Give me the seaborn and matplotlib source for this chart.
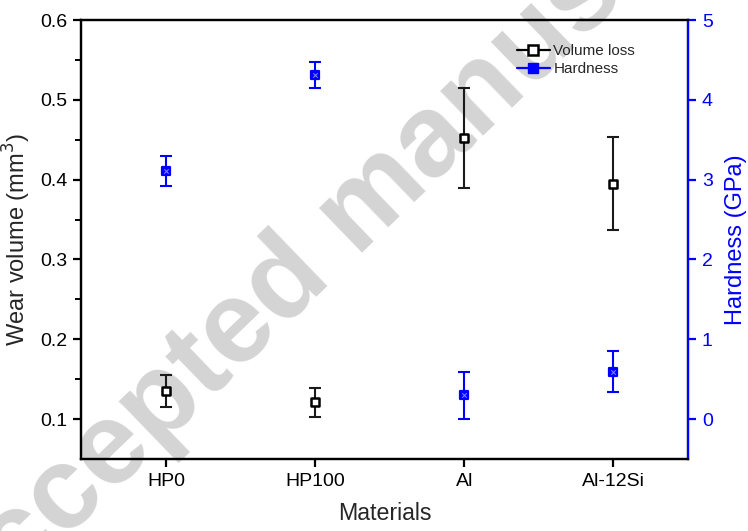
import numpy as np
import pandas as pd
import seaborn as sns
import matplotlib
matplotlib.use("Agg")
import matplotlib.pyplot as plt
from matplotlib.lines import Line2D

materials = ["HP0", "HP100", "Al", "Al-12Si"]
volume_loss = [0.135, 0.121, 0.452, 0.395]
volume_err = [0.020, 0.018, 0.063, 0.058]
hardness = [3.11, 4.31, 0.30, 0.595]
hardness_err = [0.185, 0.16, 0.295, 0.255]

sns.set_theme(style="ticks")
plt.rcParams["font.family"] = ["Liberation Sans", "DejaVu Sans"]

fig = plt.figure(figsize=(7.48, 5.31), dpi=100)
fig.patch.set_facecolor("white")

# watermark behind everything
fig.text(-0.058, -0.215, "Accepted manuscript", fontsize=84, fontweight="bold",
         color="#d4d4d4", rotation=44, rotation_mode="anchor",
         ha="left", va="baseline", zorder=-5)

ax = fig.add_axes([0.1083, 0.1356, 0.8115, 0.8267])
ax.set_facecolor("none")
ax2 = ax.twinx()
ax2.set_facecolor("none")

x = np.arange(len(materials))
df = pd.DataFrame({"x": x, "material": materials, "vol": volume_loss,
                   "vol_err": volume_err, "hard": hardness, "hard_err": hardness_err})

# Volume loss
ax.errorbar(df["x"], df["vol"], yerr=df["vol_err"], fmt="none", ecolor="#1a1a1a",
            elinewidth=1.5, capsize=4.5, capthick=1.5, zorder=2)
sns.scatterplot(data=df, x="x", y="vol", ax=ax, marker="s", s=36, color="white",
                edgecolor="black", linewidth=1.8, zorder=3, legend=False)

# Hardness
ax2.errorbar(df["x"], df["hard"], yerr=df["hard_err"], fmt="none", ecolor="#0000ff",
             elinewidth=1.5, capsize=4.5, capthick=1.5, zorder=2)
sns.scatterplot(data=df, x="x", y="hard", ax=ax2, marker="s", s=36, color="#0000ff",
                edgecolor="#0000ff", linewidth=1.6, zorder=3, legend=False)
sns.scatterplot(data=df, x="x", y="hard", ax=ax2, marker="x", s=10, color="#8c8cff",
                linewidth=0.7, zorder=4, legend=False)

ax.set_xlim(-0.57, 3.5)
ax.set_ylim(0.05, 0.6)
ax2.set_ylim(-0.5, 5)

ax.set_xticks(x)
ax.set_xticklabels(materials)
ax.set_yticks([0.1, 0.2, 0.3, 0.4, 0.5, 0.6])
ax.set_yticklabels(["0.1", "0.2", "0.3", "0.4", "0.5", "0.6"])
ax.set_yticks(np.arange(0.15, 0.6, 0.1), minor=True)
ax2.set_yticks([0, 1, 2, 3, 4, 5])

for a in (ax, ax2):
    for s in a.spines.values():
        s.set_linewidth(1.6)
        s.set_color("black")
ax2.spines["right"].set_color("#0000ff")

ax.tick_params(axis="both", which="major", direction="out", length=6, width=1.6,
               labelsize=14, colors="black", pad=4)
ax.tick_params(axis="y", which="minor", direction="out", length=4, width=1.4, colors="black")
ax.tick_params(axis="x", which="minor", length=0)
ax2.tick_params(axis="y", which="major", direction="out", length=6, width=1.6,
                labelsize=14, colors="#0000ff", pad=4)

ax.set_xlabel("Materials", fontsize=16.7, labelpad=9)
ax.set_ylabel("Wear volume (mm$^3$)", fontsize=17, labelpad=5)
ax2.set_ylabel("Hardness (GPa)", fontsize=17, color="#0000ff", labelpad=9)

handles = [
    Line2D([], [], color="black", lw=1.6, marker="s", markersize=6.5,
           markerfacecolor="white", markeredgecolor="black", markeredgewidth=1.8),
    Line2D([], [], color="#0000ff", lw=1.6, marker="s", markersize=6.5,
           markerfacecolor="#0000ff", markeredgecolor="#0000ff"),
]
ax.legend(handles, ["Volume loss", "Hardness"], loc="upper left",
          bbox_to_anchor=(0.70, 0.97), frameon=False, fontsize=11,
          handlelength=2.2, handletextpad=0.2, labelspacing=0.3, borderpad=0.2)

fig.savefig("out.png", dpi=100)
